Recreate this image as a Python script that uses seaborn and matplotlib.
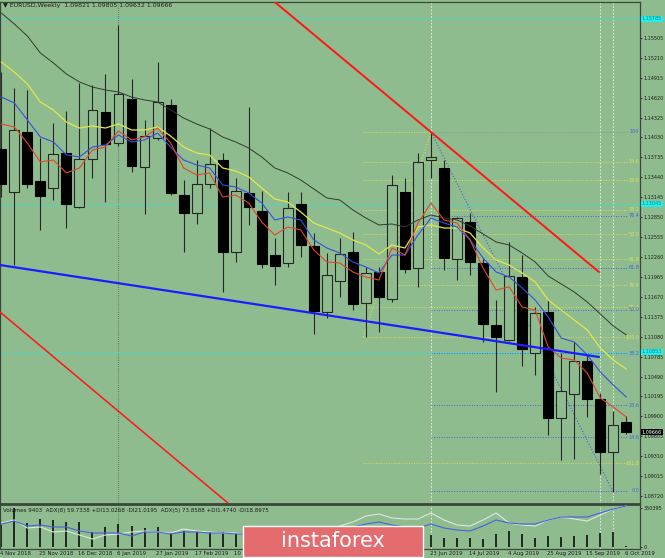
import numpy as np
import pandas as pd
import matplotlib
matplotlib.use("Agg")
import matplotlib.pyplot as plt
import seaborn as sns
from matplotlib.patches import Rectangle

# Weekly EURUSD candles, 4 Nov 2018 .. 6 Oct 2019
opens = [1.13859, 1.13222, 1.14111, 1.13385, 1.13281, 1.13800, 1.13000, 1.13711, 1.14407, 1.13948,
         1.14600, 1.13593, 1.14022, 1.14511, 1.13178, 1.12911, 1.13341, 1.13696, 1.12334, 1.13207,
         1.12941, 1.12289, 1.12171, 1.13045, 1.12423, 1.11445, 1.11904, 1.12334, 1.11578, 1.12037,
         1.11638, 1.13222, 1.12097, 1.13696, 1.13578, 1.12230, 1.12778, 1.12171, 1.11253, 1.11030,
         1.11963, 1.10838, 1.11445, 1.09875, 1.10231, 1.10719, 1.10157, 1.09372, 1.09821]
highs = [1.14999, 1.14762, 1.14733, 1.14022, 1.14244, 1.14422, 1.14837, 1.14807, 1.14970, 1.15696,
         1.14896, 1.14289, 1.15148, 1.14600, 1.13400, 1.13696, 1.14170, 1.13800, 1.13430, 1.14481,
         1.13237, 1.12541, 1.13222, 1.13222, 1.12615, 1.12319, 1.12541, 1.12630, 1.12112, 1.12112,
         1.13474, 1.13430, 1.13800, 1.14111, 1.13696, 1.12852, 1.12911, 1.12245, 1.11623, 1.12482,
         1.12289, 1.11519, 1.11623, 1.10838, 1.11001, 1.10808, 1.10245, 1.09979, 1.09900]
lows = [1.13148, 1.12141, 1.13281, 1.12659, 1.13104, 1.12689, 1.12990, 1.13430, 1.13074, 1.13900,
        1.13518, 1.12896, 1.13990, 1.13180, 1.12334, 1.12748, 1.13281, 1.11741, 1.12186, 1.12734,
        1.12097, 1.11845, 1.12112, 1.12260, 1.11119, 1.11356, 1.11667, 1.11475, 1.11075, 1.11149,
        1.11593, 1.12023, 1.11815, 1.13430, 1.12067, 1.11919, 1.11993, 1.11001, 1.10260, 1.11015,
        1.10645, 1.10512, 1.09623, 1.09253, 1.09268, 1.09890, 1.09046, 1.08779, 1.09632]
closes = [1.13341, 1.14140, 1.13341, 1.13163, 1.13785, 1.13045, 1.13711, 1.14437, 1.13933, 1.14674,
          1.13607, 1.14052, 1.14555, 1.13207, 1.12911, 1.13341, 1.13637, 1.12334, 1.13237, 1.13000,
          1.12156, 1.12126, 1.12985, 1.12437, 1.11460, 1.11993, 1.12304, 1.11564, 1.12023, 1.11667,
          1.13326, 1.12082, 1.13667, 1.13741, 1.12245, 1.12837, 1.12186, 1.11267, 1.11075, 1.11978,
          1.10897, 1.11430, 1.09875, 1.10275, 1.10719, 1.10157, 1.09372, 1.09772, 1.09666]

# moving averages drawn on the chart
dark_ma = [1.15873, 1.15710, 1.15533, 1.15281, 1.15133, 1.14970, 1.14852, 1.14777, 1.14733, 1.14703,
           1.14629, 1.14585, 1.14555, 1.14437, 1.14318, 1.14230, 1.14155, 1.14037, 1.13963, 1.13874,
           1.13741, 1.13578, 1.13504, 1.13400, 1.13267, 1.13134, 1.13104, 1.12956, 1.12837, 1.12734,
           1.12749, 1.12704, 1.12808, 1.12882, 1.12837, 1.12808, 1.12719, 1.12600, 1.12482, 1.12438,
           1.12319, 1.12186, 1.11978, 1.11860, 1.11742, 1.11593, 1.11416, 1.11238, 1.11105]
yellow_ma = [1.15148, 1.14999, 1.14822, 1.14555, 1.14437, 1.14259, 1.14170, 1.14200, 1.14170, 1.14230,
             1.14141, 1.14141, 1.14185, 1.14052, 1.13889, 1.13800, 1.13770, 1.13578, 1.13534, 1.13445,
             1.13282, 1.13119, 1.13074, 1.12926, 1.12763, 1.12689, 1.12615, 1.12512, 1.12438, 1.12304,
             1.12438, 1.12393, 1.12704, 1.12734, 1.12689, 1.12689, 1.12615, 1.12393, 1.12215, 1.12141,
             1.12023, 1.11890, 1.11623, 1.11475, 1.11327, 1.11179, 1.10912, 1.10734, 1.10601]
blue_ma = [1.14629, 1.14541, 1.14289, 1.14037, 1.13963, 1.13770, 1.13741, 1.13889, 1.13919, 1.14067,
           1.13963, 1.13993, 1.14096, 1.13889, 1.13696, 1.13622, 1.13578, 1.13326, 1.13297, 1.13208,
           1.13060, 1.12808, 1.12852, 1.12808, 1.12512, 1.12393, 1.12319, 1.12186, 1.12112, 1.12023,
           1.12289, 1.12289, 1.12586, 1.12837, 1.12763, 1.12704, 1.12512, 1.12245, 1.12038, 1.11964,
           1.11801, 1.11623, 1.11371, 1.11060, 1.11001, 1.10808, 1.10557, 1.10364, 1.10186]
red_ma = [1.14230, 1.14185, 1.13948, 1.13667, 1.13696, 1.13504, 1.13578, 1.13844, 1.13889, 1.14126,
          1.13993, 1.14037, 1.14170, 1.13948, 1.13578, 1.13474, 1.13504, 1.13148, 1.13178, 1.13060,
          1.12778, 1.12586, 1.12704, 1.12660, 1.12364, 1.12186, 1.12171, 1.12038, 1.11964, 1.11919,
          1.12393, 1.12289, 1.12763, 1.13060, 1.12808, 1.12763, 1.12512, 1.12097, 1.11771, 1.11816,
          1.11519, 1.11475, 1.10927, 1.10764, 1.10734, 1.10542, 1.10172, 1.10038, 1.09890]

# lower panel: tick volumes and two ADX lines
volumes = [197670, 350395, 215640, 251580, 242595, 224625, 224625, 134775, 179700, 206655,
           188685, 170715, 179700, 125790, 143760, 134775, 134775, 134775, 125790, 125790,
           134775, 116805, 125790, 134775, 116805, 125790, 107820, 116805, 107820, 125790,
           116805, 107820, 116805, 107820, 80865, 80865, 80865, 71880, 116805, 143760,
           116805, 80865, 98835, 89850, 98835, 107820, 125790, 134775, 9403]
adx_blue = [57.5, 65, 52.5, 55, 50, 50, 40, 35, 35, 35, 27.5, 37.5, 37.5, 32.5, 37.5, 37.5, 35, 35,
            32.5, 32.5, 30, 30, 32.5, 32.5, 35, 37.5, 42.5, 50, 57.5, 62.5, 55, 50, 47.5, 57.5, 47.5,
            42.5, 40, 52.5, 67.5, 60, 57.5, 57.5, 67.5, 75, 75, 75, 85, 95, 102.5]
adx_white = [60, 67.5, 47.5, 50, 37.5, 40, 30, 20, 30, 32.5, 37.5, 40, 37.5, 35, 45, 40, 37.5, 35,
             35, 30, 27.5, 27.5, 30, 32.5, 37.5, 42.5, 52.5, 62.5, 77.5, 82.5, 72.5, 70, 70, 85, 67.5,
             55, 52.5, 67.5, 85, 60, 55, 52.5, 67.5, 75, 70, 65, 80, 95, 102.5]

date_labels = ["4 Nov 2018", "25 Nov 2018", "16 Dec 2018", "6 Jan 2019", "27 Jan 2019",
               "17 Feb 2019", "10 Mar 2019", "31 Mar 2019", "21 Apr 2019", "12 May 2019",
               "2 Jun 2019", "23 Jun 2019", "14 Jul 2019", "4 Aug 2019", "25 Aug 2019",
               "15 Sep 2019", "6 Oct 2019"]
date_label_idx = [0, 3, 6, 9, 12, 15, 18, 21, 24, 27, 30, 33, 36, 39, 42, 45, 48]

price_ticks = [1.15505, 1.15210, 1.14915, 1.14620, 1.14325, 1.14030, 1.13735, 1.13440, 1.13145,
               1.12850, 1.12555, 1.12260, 1.11965, 1.11670, 1.11375, 1.11080, 1.10785, 1.10490,
               1.10195, 1.09900, 1.09605, 1.09310, 1.09015, 1.08720]

# fibonacci levels (yellow set: May low -> 23 Jun high, blue set: high -> Oct low)
fib_yellow_levels = [1.13667, 1.13400, 1.12956, 1.12600, 1.12230, 1.11845, 1.11519, 1.11075, 1.09209]
fib_yellow_names = ["14.6", "23.6", "38.2", "50.0", "61.8", "76.4", "85.4", "100.0", "161.8"]
fib_blue_levels = [1.08800, 1.09594, 1.10068, 1.10838, 1.11475, 1.12097, 1.12867, 1.14111]
fib_blue_names = ["0.0", "14.6", "23.6", "38.2", "50.0", "61.8", "76.4", "100"]
fib_top = 1.14111
fib_yellow_start, fib_yellow_low = 27.8, 1.11075
fib_blue_start, fib_blue_end, fib_blue_low = 33, 47, 1.08779

cyan_levels = [1.15785, 1.13045, 1.10853]
vlines_dashed = [33, 46, 47]
vline_dotted = 9

# trend lines (start index, start price, end index, end price)
red_upper = (21.0, 1.16036, 45.9, 1.12038)
red_lower = (-0.1, 1.11445, 17.4, 1.08617)
blue_trend = (-0.1, 1.12141, 45.9, 1.10779)

BG = "#8fbc8f"
sns.set_style("white", {"axes.facecolor": BG, "figure.facecolor": BG})
plt.rcParams["font.family"] = ["DejaVu Sans"]

df = pd.DataFrame({"i": np.arange(len(opens)), "open": opens, "high": highs,
                   "low": lows, "close": closes, "dark": dark_ma, "yellow": yellow_ma,
                   "blue": blue_ma, "red": red_ma, "vol": volumes,
                   "adx_b": adx_blue, "adx_w": adx_white})

fig = plt.figure(figsize=(6.65, 5.58), dpi=100)
fig.patch.set_facecolor(BG)
ax = fig.add_axes([0, 54 / 558, 640 / 665, 502 / 558])
ax2 = fig.add_axes([0, 9 / 558, 640 / 665, 44 / 558], sharex=ax)
xmin, xmax = -0.1, 49.05
ax.set_xlim(xmin, xmax)
ax.set_ylim(1.08602, 1.16036)

# candles
up = df.close >= df.open
ax.vlines(df.i, df.low, df.high, color="#262626", lw=0.8, zorder=2)
ax.bar(df.i[up], (df.close - df.open)[up], bottom=df.open[up], width=0.76,
       facecolor=BG, edgecolor="#262626", lw=0.8, zorder=3)
ax.bar(df.i[~up], (df.open - df.close)[~up], bottom=df.close[~up], width=0.76,
       facecolor="black", edgecolor="black", lw=0.8, zorder=3)

# moving averages
for col, c, w in [("dark", "#2f3b2f", 0.7), ("yellow", "#e4e64a", 0.9),
                  ("blue", "#3550e0", 0.8), ("red", "#e2462c", 0.8)]:
    sns.lineplot(data=df, x="i", y=col, ax=ax, color=c, lw=w, legend=False, zorder=4)

# horizontal cyan lines
for lv in cyan_levels:
    ax.axhline(lv, color="#48d8c8", lw=0.6, zorder=1.5)

# vertical markers
for v in vlines_dashed:
    for a in (ax, ax2):
        a.axvline(v, color="#eef4ee", lw=0.6, ls=(0, (2, 2)), zorder=1.4)
for a in (ax, ax2):
    a.axvline(vline_dotted, color="#4f5f4f", lw=0.6, ls=(0, (1, 1.5)), zorder=1.4)

# fibonacci
dot = (0, (1, 1.6))
fib_end = 48.1
for lv, nm in zip(fib_yellow_levels, fib_yellow_names):
    ax.plot([fib_yellow_start, fib_end], [lv, lv], color="#dede48", lw=0.7, ls=dot, zorder=1.6)
    ax.text(49.0, lv, nm, ha="right", va="center", fontsize=3.5, color="#e2e24c", zorder=6)
ax.plot([fib_yellow_start, fib_blue_start], [fib_top, fib_top], color="#dede48", lw=0.7, ls=dot, zorder=1.6)
for lv, nm in zip(fib_blue_levels, fib_blue_names):
    c = "#8a8ab8" if nm == "100" else "#4a5fd8"
    ax.plot([fib_blue_start, fib_end], [lv, lv], color=c, lw=0.7, ls=dot, zorder=1.6)
    ax.text(49.0, lv, nm, ha="right", va="center", fontsize=3.5, color="#4a5fd8", zorder=6)
ax.plot([fib_yellow_start, fib_blue_start], [fib_yellow_low, fib_top], color="#dede48",
        lw=0.8, ls=dot, zorder=1.7)
ax.plot([fib_blue_start, fib_blue_end], [fib_top, fib_blue_low], color="#4a5fd8",
        lw=0.8, ls=dot, zorder=1.7)

# trend lines
ax.plot(red_upper[::2], red_upper[1::2], color="#ff1616", lw=1.4, zorder=5)
ax.plot(red_lower[::2], red_lower[1::2], color="#ff1616", lw=1.1, zorder=5)
ax.plot(blue_trend[::2], blue_trend[1::2], color="#1c1cff", lw=1.6, zorder=5)

# price axis on the right
ax.yaxis.tick_right()
ax.set_yticks(price_ticks)
ax.set_yticklabels([f"{t:.5f}" for t in price_ticks])
ax.tick_params(axis="y", labelsize=3.5, length=1.5, width=0.6, pad=0.8, colors="#1c1c1c")
ax.tick_params(axis="x", bottom=False, labelbottom=False)
ax.set_xlabel("")
ax.set_ylabel("")

def price_box(a, y, text, fc, tc):
    a.text(1.003, y, text, transform=a.get_yaxis_transform(), ha="left", va="center",
           fontsize=3.5, color=tc, zorder=10, clip_on=False,
           bbox=dict(boxstyle="square,pad=0.15", fc=fc, ec=fc, lw=0))

for lv in cyan_levels:
    price_box(ax, lv, f"{lv:.5f}", "#1ef0f0", "#208080")
price_box(ax, closes[-1], f"{closes[-1]:.5f}", "black", "white")

for s in ax.spines.values():
    s.set_color("#3a463a")
    s.set_linewidth(0.9)
ax.spines["bottom"].set_linewidth(1.3)

fig.text(3 / 665, 1 - 6 / 558, "\u25bc EURUSD,Weekly  1.09821 1.09805 1.09632 1.09666",
         fontsize=4.5, color="#1c1c1c", va="center")

# lower panel
ax2.set_ylim(-17970, 377370)
ax2.vlines(df.i, 0, df.vol, color="black", lw=1.1, zorder=2)
ax3 = ax2.twinx()
ax3.set_ylim(-5, 105)
sns.lineplot(data=df, x="i", y="adx_w", ax=ax3, color="#dde8dd", lw=0.8, legend=False)
sns.lineplot(data=df, x="i", y="adx_b", ax=ax3, color="#4762e0", lw=0.8, legend=False)
ax3.set_yticks([])
ax3.set_ylabel("")
ax3.set_xlim(xmin, xmax)
for s in ax3.spines.values():
    s.set_visible(False)
ax2.yaxis.tick_right()
ax2.set_yticks([0, 350395])
ax2.set_yticklabels(["0", "350395"])
ax2.tick_params(axis="y", labelsize=3.5, length=1.5, width=0.6, pad=0.8, colors="#1c1c1c")
ax2.tick_params(axis="x", bottom=False, labelbottom=False)
ax2.set_xlabel("")
ax2.set_ylabel("")
for s in ax2.spines.values():
    s.set_color("#3a463a")
    s.set_linewidth(0.9)
ax2.spines["top"].set_linewidth(1.3)
ax2.text(0.004, 0.87, "Volumes 9403  ADX(8) 59.7338 +DI13.0268 -DI21.0195  "
         "ADX(5) 73.8588 +DI1.4740 -DI18.8975", transform=ax2.transAxes,
         fontsize=4.0, color="#1c1c1c", va="center", zorder=8)

for idx, lab in zip(date_label_idx, date_labels):
    ax2.text(idx - 0.1, -0.1, lab, transform=ax2.get_xaxis_transform(), ha="left",
             va="center", fontsize=3.9, color="#1c1c1c", clip_on=False)

# watermark
fig.add_artist(Rectangle((243 / 665, 1 / 558), 180 / 665, 31 / 558, transform=fig.transFigure,
                         facecolor="#e46b6e", edgecolor="white", lw=1.0, zorder=20))
fig.text(333 / 665, 17 / 558, "instaforex", ha="center", va="center", fontsize=15,
         color="white", zorder=21)

fig.savefig("out.png", dpi=100, facecolor=BG)
